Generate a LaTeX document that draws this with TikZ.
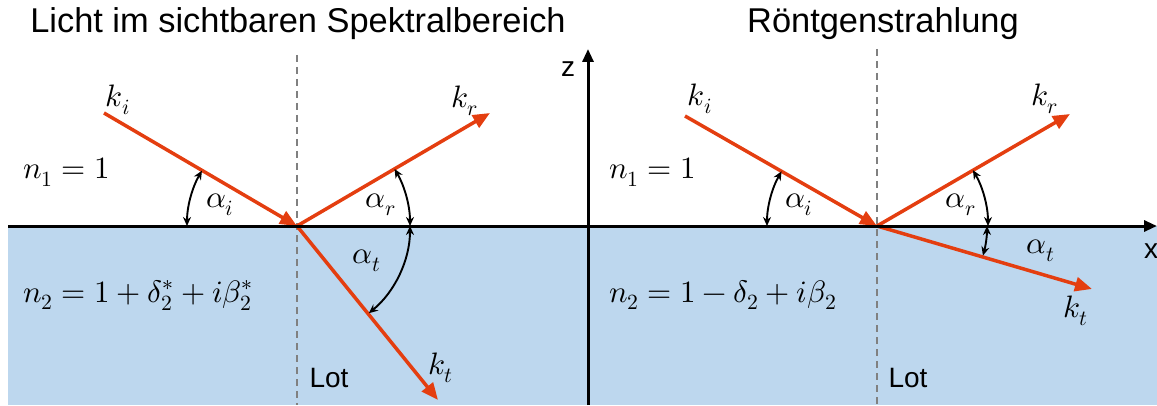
\documentclass[tikz,border=0pt]{standalone}
\usepackage{fontspec}
\usepackage{unicode-math}
\setmainfont{Liberation Sans}
\setmathfont{Latin Modern Math}
\usetikzlibrary{arrows.meta,calc}
\definecolor{ray}{RGB}{228,62,16}
\definecolor{medium}{RGB}{189,215,238}
\definecolor{lotgray}{RGB}{128,128,128}
\tikzset{
  ray/.style={draw=ray, line width=3.5pt, -{Triangle[length=17pt,width=14pt]}},
  angarrow/.style={draw=black, line width=1.9pt, {Stealth[length=9pt,width=8pt]}-{Stealth[length=9pt,width=8pt]}},
  axis/.style={draw=black, line width=3pt, -{Triangle[length=13pt,width=11pt]}},
  lot/.style={draw=lotgray, line width=1.5pt, dash pattern=on 7pt off 5pt},
  mlabel/.style={inner sep=0pt, font=\fontsize{31}{36}\selectfont},
  tlabel/.style={inner sep=0pt, font=\fontsize{28}{34}\selectfont},
  title/.style={inner sep=0pt, font=\fontsize{34.4}{40}\selectfont}
}
\begin{document}
\begin{tikzpicture}[x=1pt,y=1pt]
\useasboundingbox (0,0) rectangle (1157,405);
% medium
\fill[medium] (8,0) rectangle (1157,179);
% key coordinates
\coordinate (hitL) at (297,179);
\coordinate (kiL) at (104,292);
\coordinate (krL) at (490,292);
\coordinate (ktL) at (438,5);
\coordinate (hitR) at (877,179);
\coordinate (kiR) at (685,289);
\coordinate (krR) at (1070,291);
\coordinate (ktR) at (1092,116);
\coordinate (lotLtop) at (297,350);
\coordinate (lotLbot) at (297,0);
\coordinate (lotRtop) at (877,356);
\coordinate (lotRbot) at (877,0);
\coordinate (xstart) at (8,179);
\coordinate (xend) at (1157,179);
\coordinate (zstart) at (588,0);
\coordinate (zend) at (588,356);
% Lot lines
\draw[lot] (lotLtop) -- (lotLbot);
\draw[lot] (lotRtop) -- (lotRbot);
% rays
\draw[ray] (kiL) -- (hitL);
\draw[ray] (hitL) -- (krL);
\draw[ray] (hitL) -- (ktL);
\draw[ray] (kiR) -- (hitR);
\draw[ray] (hitR) -- (krR);
\draw[ray] (hitR) -- (ktR);
% axes / interface
\draw[axis] (xstart) -- (xend);
\draw[axis] (zstart) -- (zend);
% angle arcs
\draw[angarrow] ($(hitL)+(180:110)$) arc[start angle=180,end angle=149.8,radius=110];
\draw[angarrow] ($(hitL)+(0:113)$) arc[start angle=0,end angle=30.3,radius=113];
\draw[angarrow] ($(hitL)+(0:113)$) arc[start angle=0,end angle=-50.5,radius=113];
\draw[angarrow] ($(hitR)+(180:110)$) arc[start angle=180,end angle=150.2,radius=110];
\draw[angarrow] ($(hitR)+(0:111)$) arc[start angle=0,end angle=30.2,radius=111];
\draw[angarrow] ($(hitR)+(0:110)$) arc[start angle=0,end angle=-15.6,radius=110];
% titles
\node[title, anchor=base] (titleL) at (298,372) {Licht im sichtbaren Spektralbereich};
\node[title, anchor=base west] (titleR) at (747,372) {Röntgenstrahlung};
% axis labels
\node[tlabel] (zlab) at (568,336) {z};
\node[tlabel] (xlab) at (1151,154) {x};
% Lot labels
\node[tlabel] (lotL) at (329,27) {Lot};
\node[tlabel] (lotR) at (908,27) {Lot};
% left labels
\node[mlabel] (labkiL) at (118,305) {$k_i$};
\node[mlabel] (labkrL) at (465,304) {$k_r$};
\node[mlabel] (labktL) at (441,37) {$k_t$};
\node[mlabel] (labaiL) at (220,200) {$\alpha_i$};
\node[mlabel] (labarL) at (381,200) {$\alpha_r$};
\node[mlabel] (labatL) at (367,144) {$\alpha_t$};
\node[mlabel, anchor=base west] (n1L) at (23,226) {$n_1 = 1$};
\node[mlabel, anchor=base west] (n2L) at (23,103) {$n_2 = 1 + \delta_2^* + i\beta_2^*$};
% right labels
\node[mlabel] (labkiR) at (700,306) {$k_i$};
\node[mlabel] (labkrR) at (1045,306) {$k_r$};
\node[mlabel] (labktR) at (1076,94) {$k_t$};
\node[mlabel] (labaiR) at (799,200) {$\alpha_i$};
\node[mlabel] (labarR) at (961,200) {$\alpha_r$};
\node[mlabel] (labatR) at (1041,154) {$\alpha_t$};
\node[mlabel, anchor=base west] (n1R) at (609,226) {$n_1 = 1$};
\node[mlabel, anchor=base west] (n2R) at (609,103) {$n_2 = 1 - \delta_2 + i\beta_2$};
\end{tikzpicture}
\end{document}
